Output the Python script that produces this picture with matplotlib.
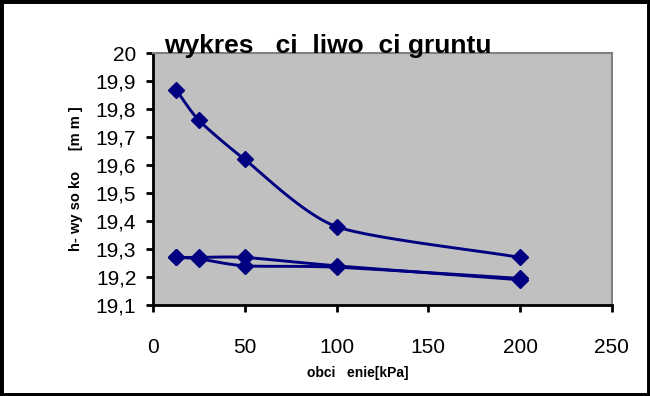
import numpy as np
import matplotlib.pyplot as plt
from matplotlib.patches import Rectangle

# obciazenie [kPa] and wysokosc h [mm] for the three test runs
load = [12.5, 25, 50, 100, 200]
h_run1 = [19.87, 19.76, 19.62, 19.38, 19.27]
h_run2 = [19.27, 19.27, 19.27, 19.24, 19.19]
h_run3 = [19.27, 19.265, 19.24, 19.235, 19.195]
y_ticks = [19.1, 19.2, 19.3, 19.4, 19.5, 19.6, 19.7, 19.8, 19.9, 20.0]
x_ticks = [0, 50, 100, 150, 200, 250]

plt.rcParams['font.family'] = ['Liberation Sans', 'DejaVu Sans']


def smooth(xs, ys, xr=250.0 / 459, yr=0.9 / 252, n=30, k=0.35):
    # bezier curve through the points in pixel space (drawing only, like Excel "smoothed line")
    p = np.column_stack([np.asarray(xs) / xr, np.asarray(ys) / yr])
    m = len(p)
    tang = np.zeros_like(p)
    for i in range(m):
        a = p[max(i - 1, 0)]
        b = p[min(i + 1, m - 1)]
        tang[i] = (b - a) * k / 2 if 0 < i < m - 1 else (b - a) * k
    out = []
    t = np.linspace(0, 1, n)[:, None]
    for i in range(m - 1):
        p0, p3 = p[i], p[i + 1]
        p1, p2 = p0 + tang[i] * 2 / 3, p3 - tang[i + 1] * 2 / 3
        seg = ((1 - t) ** 3 * p0 + 3 * (1 - t) ** 2 * t * p1
               + 3 * (1 - t) * t ** 2 * p2 + t ** 3 * p3)
        out.append(seg)
    c = np.vstack(out)
    return c[:, 0] * xr, c[:, 1] * yr


fig = plt.figure(figsize=(6.5, 3.96), dpi=100)
ax = fig.add_axes([0.2354, 0.2298, 0.706, 0.636])
ax.set_facecolor('#c0c0c0')

navy = '#000080'
for h in (h_run1, h_run2, h_run3):
    sx, sy = smooth(load, h)
    ax.plot(sx, sy, color=navy, lw=2.1, solid_capstyle='round')
    ax.plot(load, h, ls='none', marker='D', ms=8.5, color=navy)

ax.set_xlim(0, 250)
ax.set_ylim(19.1, 20.0)
ax.set_xticks(x_ticks)
ax.set_yticks(y_ticks)
ax.set_xticklabels([str(v) for v in x_ticks])
ax.set_yticklabels([('%.1f' % v).replace('.', ',') if v < 20 else '20' for v in y_ticks])
ax.tick_params(direction='out', length=5, width=2, labelsize=15)
ax.tick_params(axis='x', pad=19)
ax.tick_params(axis='y', pad=7)

for s in ('left', 'bottom'):
    ax.spines[s].set_color('black')
    ax.spines[s].set_linewidth(2)
for s in ('top', 'right'):
    ax.spines[s].set_color('#808080')
    ax.spines[s].set_linewidth(1.5)

fig.text(0.253, 0.885, 'wykres   ci  liwo  ci gruntu', fontsize=19, fontweight='bold',
         ha='left', va='center')
fig.text(0.55, 0.057, 'obci   enie[kPa]', fontsize=10, fontweight='bold', ha='center', va='center')
fig.text(0.117, 0.548, 'h- wy so ko     [m m ]', fontsize=10.5, fontweight='bold',
         rotation=90, ha='center', va='center')

fig.patches.append(Rectangle((0, 0), 1, 1, transform=fig.transFigure, fill=False,
                             edgecolor='black', lw=5, zorder=10))

fig.savefig('out.png', dpi=100)
